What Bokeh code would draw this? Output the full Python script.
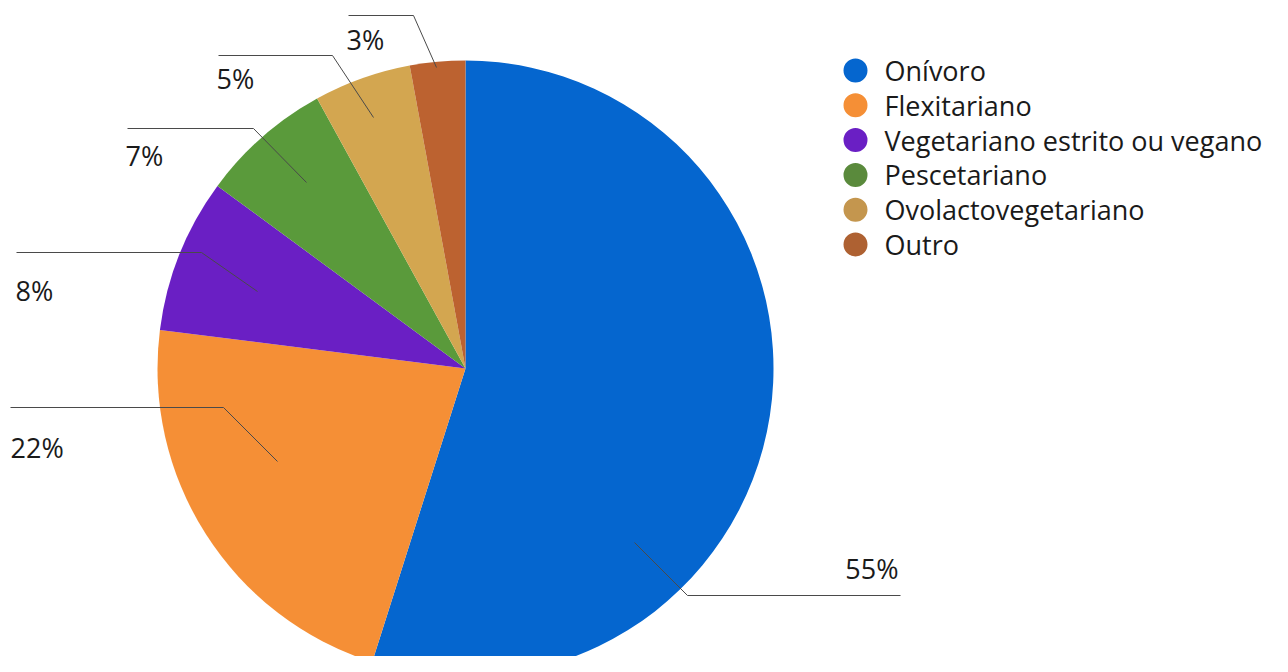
import math
from bokeh.plotting import figure
from bokeh.models import Range1d, ColumnDataSource
from bokeh.core.properties import value
from bokeh.embed import file_html
from bokeh.resources import INLINE

# ---- data ----
categories = ["Onívoro", "Flexitariano", "Vegetariano estrito ou vegano",
              "Pescetariano", "Ovolactovegetariano", "Outro"]
shares = [54.9, 22.1, 8.1, 6.9, 5.1, 2.9]
slice_colors = ["#0566CF", "#F58F36", "#6A1FC4", "#5A9A3B", "#D3A650", "#BC6230"]
legend_colors = ["#0566CF", "#F58F36", "#6A1FC4", "#5A8A3C", "#C4964E", "#AE6132"]

# ---- layout (pixels of the picture) ----
W, H = 1272, 656
FONT = "Open Sans"
FS = "27px"
cx, cy, R = 465, 368, 308
# leader lines: start, elbow, end ; label anchor and alignment
leaders = [
    ((634, 542), (687, 595), (900, 595)),
    ((277, 461), (223, 407), (10, 407)),
    ((257, 291), (201, 252), (16, 252)),
    ((306, 182), (253, 128), (127, 128)),
    ((373, 117), (332, 55), (218, 55)),
    ((436, 67), (413, 15), (348, 15)),
]
label_pos = [(898, 568, "right"), (10, 447, "left"), (15, 290, "left"),
             (125, 155, "left"), (216, 78, "left"), (346, 39, "left")]
leg_x, leg_y0, leg_dy = 855, 70, 34.8


def Y(sy):
    return H - sy


p = figure(width=W, height=H, output_backend="svg", toolbar_location=None,
           x_range=Range1d(0, W), y_range=Range1d(0, H),
           x_axis_location=None, y_axis_location=None, min_border=0,
           tools="")
p.grid.visible = False
p.outline_line_color = None
p.background_fill_color = "white"

total = sum(shares)
cum = 0.0
starts, ends = [], []
for v in shares:
    starts.append(math.pi / 2 - cum / total * 2 * math.pi)
    cum += v
    ends.append(math.pi / 2 - cum / total * 2 * math.pi)

src = ColumnDataSource(dict(start=starts, end=ends, color=slice_colors))
p.wedge(x=cx, y=Y(cy), radius=R, start_angle="start", end_angle="end",
        direction="clock", fill_color="color", line_color=None, source=src)

# leader lines
xs = [[a[0], b[0], c[0]] for a, b, c in leaders]
ys = [[Y(a[1]), Y(b[1]), Y(c[1])] for a, b, c in leaders]
p.multi_line(xs=xs, ys=ys, line_color="#4a4a4a", line_width=1)

# percentage labels
for v, (lx, ly, al) in zip(shares, label_pos):
    p.text(x=[lx], y=[Y(ly)], text=[f"{round(v)}%"], text_align=al,
           text_baseline="middle", text_font=value(FONT),
           text_font_size=FS, text_color="#1a1a1a")

# legend
ly = [Y(leg_y0 + i * leg_dy) for i in range(len(categories))]
p.scatter(x=[leg_x] * len(categories), y=ly, size=24, marker="circle",
          fill_color=legend_colors, line_color=None)
p.text(x=[leg_x + 29] * len(categories), y=ly, text=categories,
       text_align="left", text_baseline="middle", text_font=value(FONT),
       text_font_size=FS, text_color="#1a1a1a")

open("out.html", "w").write(file_html(p, INLINE))
